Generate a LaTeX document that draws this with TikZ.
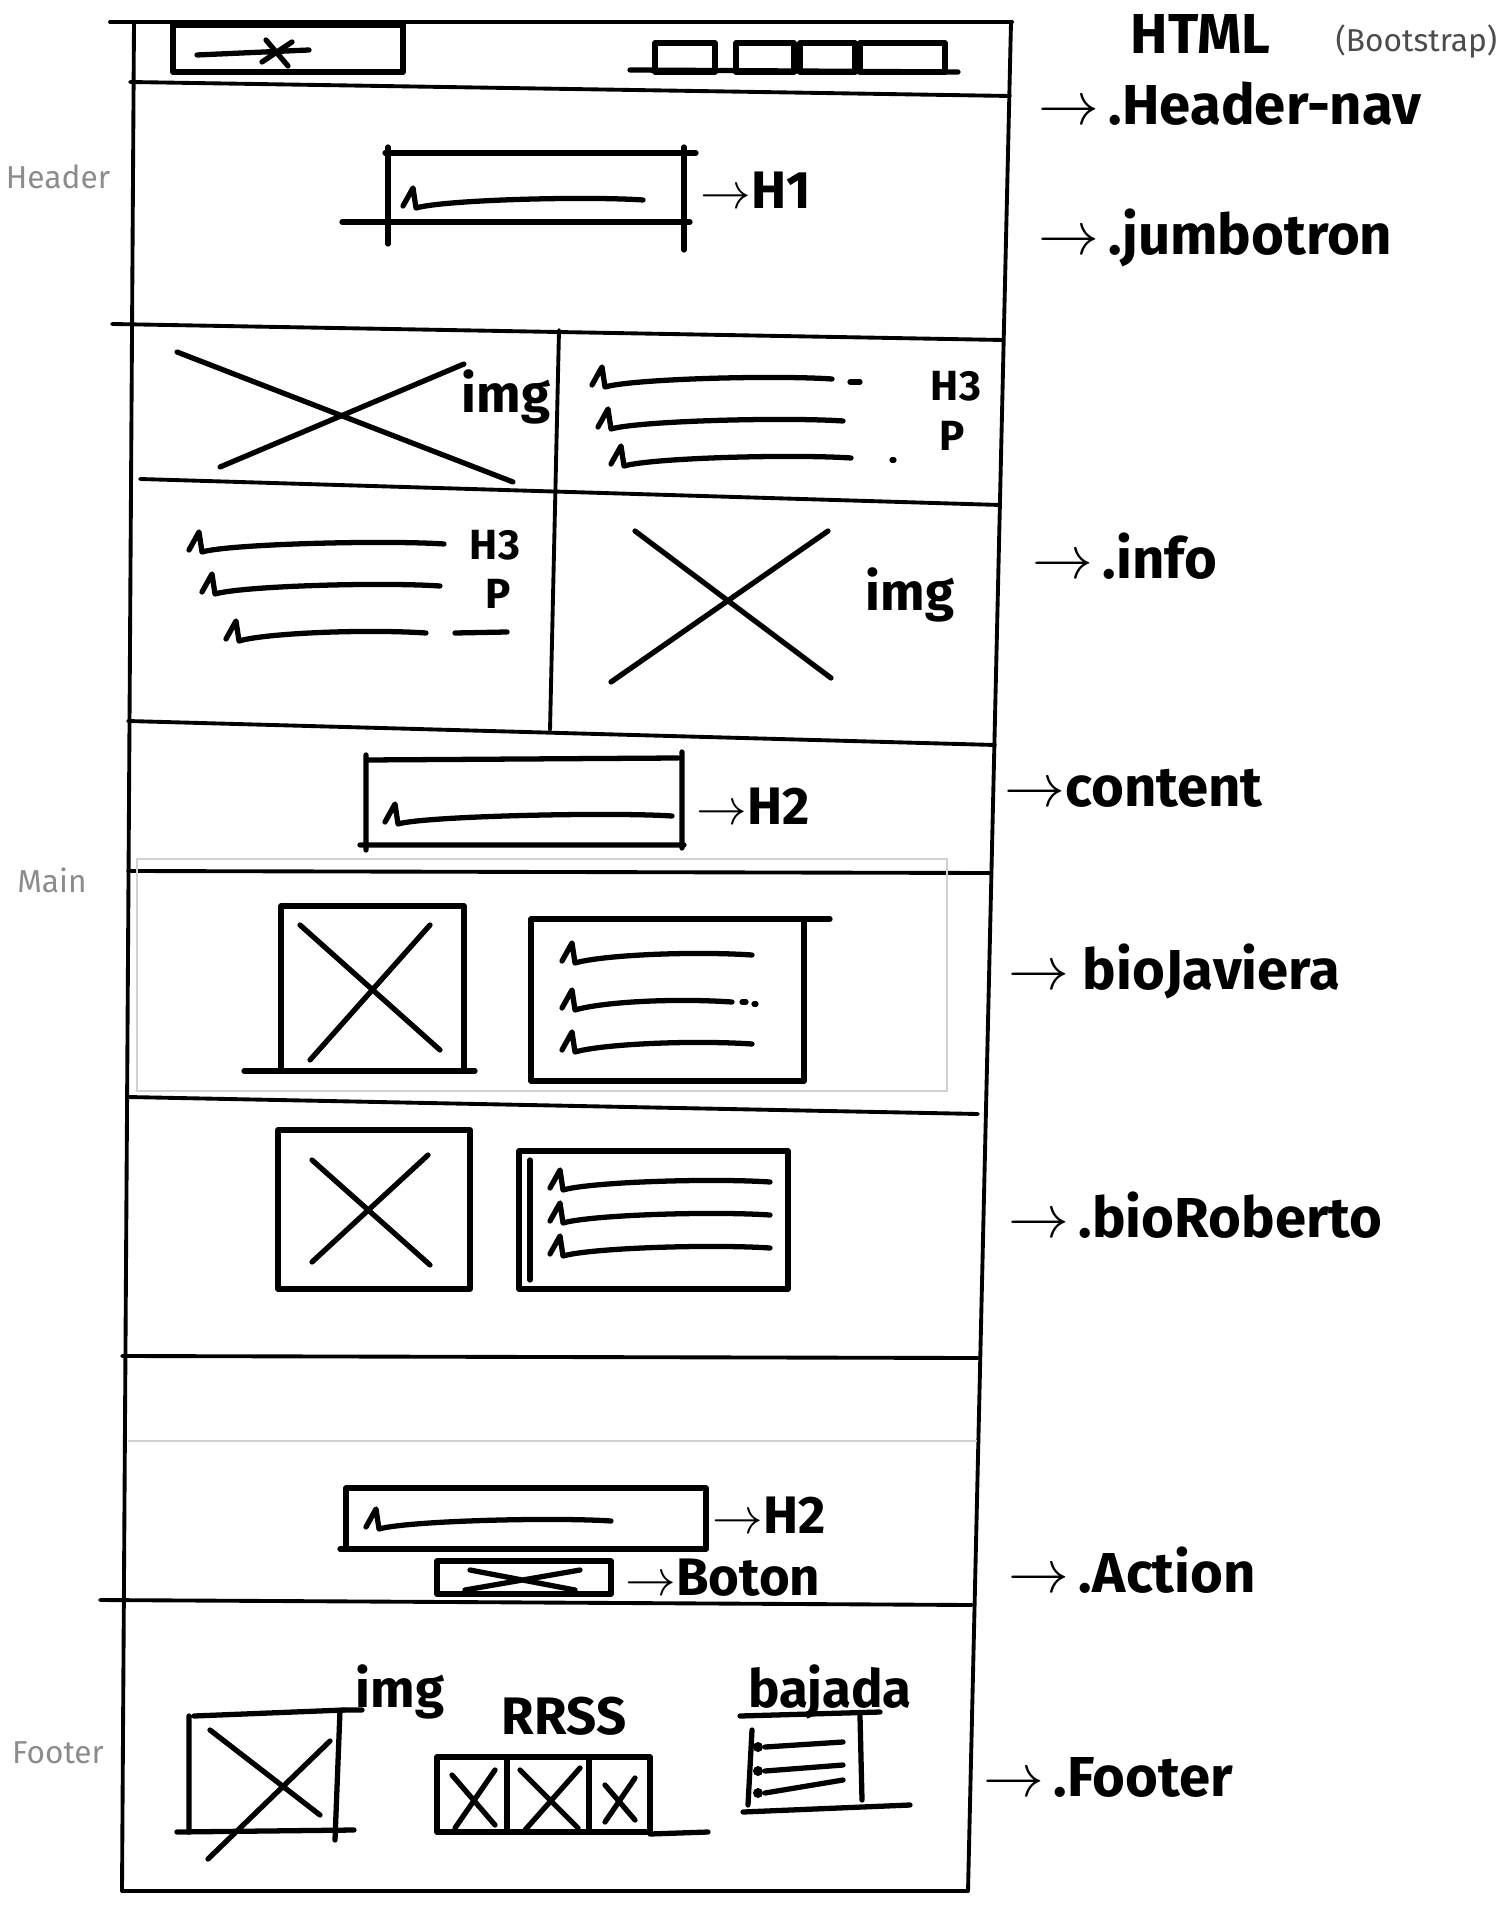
\documentclass[tikz,border=0pt]{standalone}
\usepackage{fontspec}
\setmainfont{Fira Sans}

\begin{document}
\begin{tikzpicture}
[
    x=0.01cm, y=-0.01cm,
    pen/.style={line width=1.5pt, line cap=round, line join=round},
    wall/.style={line width=1.1pt, line cap=round},
    faint/.style={line width=0.6pt, black!18},
    cls/.style={anchor=west, inner sep=0pt, font=\fontsize{16}{19}\selectfont\bfseries},
    tag/.style={inner sep=0pt, font=\fontsize{15}{18}\selectfont\bfseries},
    minitag/.style={inner sep=0pt, font=\fontsize{12}{14}\selectfont\bfseries},
    sidenote/.style={inner sep=0pt, black!45, font=\fontsize{9}{11}\selectfont},
    pics/scrib/.style={code={\draw[pen] (0,6) -- (10,-12) -- (13,8) .. controls (40,0) and (#1-60,-4) .. (#1,0);}},
]
\useasboundingbox (0,0) rectangle (1500,1916);

% page frame and section lines
\draw[wall] (134,22) -- (122,1891) (1011,22) -- (968,1891);
\draw[wall] (110,22) -- (1012,22);
\draw[wall] (130,82) -- (1010,96);
\draw[wall] (112,324) -- (1003,340);
\draw[wall] (140,479) -- (1000,505);
\draw[wall] (128,721) -- (995,745);
\draw[wall] (128,871) -- (990,873);
\draw[wall] (128,1097) -- (978,1114);
\draw[wall] (122,1356) -- (978,1358);
\draw[faint] (128,1441) -- (977,1441);
\draw[faint] (137,859) rectangle (947,1091);
\draw[wall] (100,1600) -- (972,1605);
\draw[wall] (122,1891) -- (968,1891);
\draw[wall] (559,330) -- (550,730);

% header-nav
\draw[pen] (173,25) rectangle (403,72);
\draw[pen] (197,55) -- (309,50) (266,40) -- (288,66) (292,42) -- (262,62);
\draw[pen] (630,70) -- (958,72);
\draw[pen] (655,43) rectangle (715,72) (736,43) rectangle (794,72) (800,43) rectangle (855,72) (860,43) rectangle (945,72);

% jumbotron
\draw[pen] (385,153) -- (696,153) (342,222) -- (690,222) (388,147) -- (388,244) (684,147) -- (684,250);
\pic at (403,200) {scrib=240};
\node[tag, anchor=west] (hone) at (700,190) {$\rightarrow$H1};

% info
\draw[pen] (177,352) -- (513,482) (220,467) -- (464,364);
\node[tag] (imgone) at (506,397) {img};
\pic at (592,379) {scrib=240};
\pic at (598,421) {scrib=245};
\pic at (611,458) {scrib=240};
\draw[pen] (850,382) -- (860,382) (892,460) -- (894,460);
\node[minitag] (hthreea) at (956,386) {H3};
\node[minitag] (pa) at (952,436) {P};
\pic at (189,544) {scrib=255};
\pic at (202,586) {scrib=238};
\pic at (226,633) {scrib=200};
\draw[pen] (455,633) -- (507,632);
\node[minitag] (hthreeb) at (495,545) {H3};
\node[minitag] (pb) at (498,594) {P};
\draw[pen] (635,531) -- (831,678) (611,682) -- (828,531);
\node[tag] (imgtwo) at (910,595) {img};

% content
\draw[pen] (366,760) -- (678,758) (360,845) -- (684,845) (366,755) -- (366,850) (682,752) -- (682,848);
\pic at (385,816) {scrib=287};
\node[tag, anchor=west] (htwoa) at (696,806) {$\rightarrow$H2};

% bioJaviera
\draw[pen] (281,906) rectangle (464,1071);
\draw[pen] (244,1071) -- (475,1071);
\draw[pen] (300,925) -- (440,1050) (430,925) -- (310,1060);
\draw[pen] (531,919) rectangle (804,1081);
\draw[pen] (804,919) -- (830,919);
\pic at (562,955) {scrib=190};
\pic at (562,1002) {scrib=170};
\draw[pen] (742,1002) -- (746,1002) (754,1004) -- (756,1004);
\pic at (562,1044) {scrib=190};

% bioRoberto
\draw[pen] (278,1130) rectangle (470,1289);
\draw[pen] (312,1160) -- (430,1265) (428,1155) -- (312,1262);
\draw[pen] (519,1151) rectangle (788,1289);
\draw[pen] (530,1160) -- (530,1280);
\pic at (550,1182) {scrib=220};
\pic at (550,1215) {scrib=220};
\pic at (550,1248) {scrib=220};

% action
\draw[pen] (346,1488) rectangle (706,1549);
\draw[pen] (340,1549) -- (346,1549);
\pic at (366,1521) {scrib=245};
\node[tag, anchor=west] (htwob) at (712,1515) {$\rightarrow$H2};
\draw[pen] (437,1561) rectangle (611,1594);
\draw[pen] (470,1570) -- (575,1590) (465,1590) -- (580,1570);
\node[tag, anchor=west] (boton) at (625,1578) {$\rightarrow$Boton};

% footer
\draw[pen] (194,1716) -- (344,1710) (189,1716) -- (189,1832) (340,1710) -- (335,1840);
\draw[pen] (177,1832) -- (354,1830) (344,1710) -- (362,1710);
\draw[pen] (210,1730) -- (320,1815) (330,1741) -- (208,1859);
\node[tag] (imgthree) at (400,1692) {img};
\node[tag] (rrss) at (564,1716) {RRSS};
\draw[pen] (437,1757) rectangle (650,1832);
\draw[pen] (507,1757) -- (507,1832) (589,1757) -- (589,1832);
\draw[pen] (650,1834) -- (708,1832);
\draw[pen] (452,1775) -- (495,1825) (495,1770) -- (455,1828);
\draw[pen] (520,1770) -- (578,1828) (580,1768) -- (525,1830);
\draw[pen] (605,1785) -- (635,1820) (635,1778) -- (605,1822);
\node[tag] (bajada) at (830,1692) {bajada};
\draw[pen] (740,1716) -- (880,1712);
\draw[pen] (752,1730) -- (748,1805) (860,1716) -- (862,1800);
\draw[pen] (765,1747) -- (843,1742) (765,1771) -- (843,1765) (765,1793) -- (843,1780);
\fill (758,1747) circle (5) (758,1771) circle (5) (758,1793) circle (5);
\draw[pen] (743,1812) -- (910,1805);

% side notes
\node[sidenote] (sheader) at (58,177) {Header};
\node[sidenote] (smain) at (52,880) {Main};
\node[sidenote] (sfooter) at (58,1753) {Footer};

% class names
\node[cls] (html) at (1130,34) {HTML};
\node[cls, black!70, font=\fontsize{9}{11}\selectfont] (boot) at (1335,42) {(Bootstrap)};
\node[cls] (navcls) at (1038,104) {$\rightarrow$\,.Header-nav};
\node[cls] (jumbocls) at (1038,238) {$\rightarrow$\,.jumbotron};
\node[cls] (infocls) at (1032,556) {$\rightarrow$\,.info};
\node[cls] (contentcls) at (1004,788) {$\rightarrow$content};
\node[cls] (javcls) at (1008,971) {$\rightarrow$ bioJaviera};
\node[cls] (robcls) at (1008,1215) {$\rightarrow$\,.bioRoberto};
\node[cls] (actioncls) at (1008,1570) {$\rightarrow$\,.Action};
\node[cls] (footcls) at (983,1777) {$\rightarrow$\,.Footer};
\end{tikzpicture}
\end{document}
